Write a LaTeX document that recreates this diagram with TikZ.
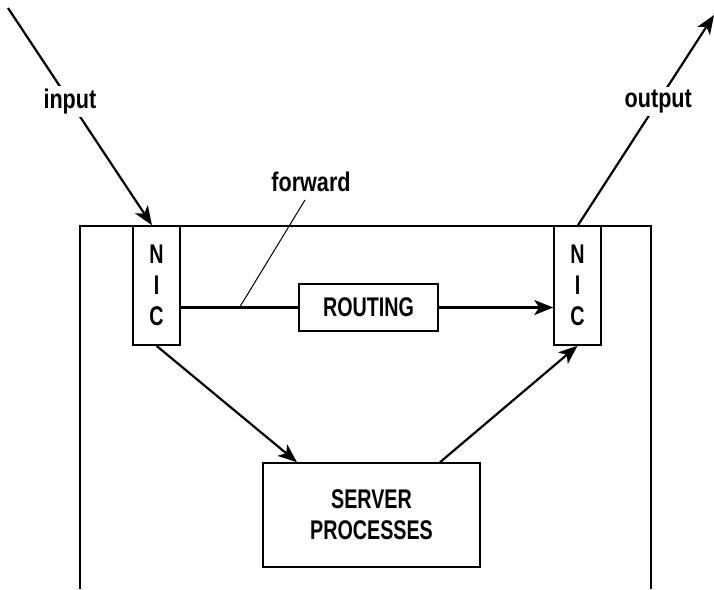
\documentclass[tikz,border=0pt]{standalone}
\usepackage{fontspec}
\setmainfont{Liberation Sans}[FakeStretch=0.73]
\newfontfamily\lowfont{Liberation Sans}[FakeStretch=0.8]
\usepackage{tikz}
\usetikzlibrary{arrows.meta}

\tikzset{
	box/.style={draw,line width=1.6pt,fill=white,inner sep=0pt,font=\bfseries\fontsize{27}{31}\selectfont,align=center},
	arr/.style={-{Stealth[length=19pt,width=15pt,inset=5pt]},line width=2.2pt},
	lbl/.style={fill=white,inner sep=3pt,font=\lowfont\bfseries\fontsize{27}{30}\selectfont}
}

\begin{document}
\begin{tikzpicture}[x=1pt,y=-1pt]
	\useasboundingbox (0,0) rectangle (714,589);
	
	%host
	\draw[line width=1.6pt] (80,589) -- (80,226) -- (651,226) -- (651,589);
	
	\node[box,minimum width=47pt,minimum height=119pt] (nicL) at (156.5,285.5) {N\\I\\C};
	\node[box,minimum width=47pt,minimum height=119pt] (nicR) at (577.5,285.5) {N\\I\\C};
	\node[box,minimum width=139pt,minimum height=47pt] (routing) at (368.5,307.5) {ROUTING};
	\node[box,minimum width=217pt,minimum height=104pt] (server) at (371.5,515) {SERVER\\PROCESSES};
	
	%in and out
	\coordinate (src) at (8,8);
	\coordinate (dst) at (714,15);
	\draw[arr] (src) -- node[lbl,pos=0.43] (input) {input} ([xshift=-4.5pt]nicL.north);
	\draw[arr] ([xshift=0.5pt]nicR.north) -- node[lbl,pos=0.59] (output) {output} (dst);
	
	%forward path
	\draw[line width=2.2pt] (routing.west -| nicL.east) -- coordinate[pos=0.5] (fwd) (routing.west);
	\draw[arr] (routing.east) -- (routing.east -| nicR.west);
	\node[font=\lowfont\bfseries\fontsize{27}{30}\selectfont] (fwdlbl) at (311,182) {forward};
	\draw[line width=1pt] (305,200) -- (fwd);
	
	%to and from the server
	\draw[arr] (nicL.south) -- ([xshift=-74.5pt]server.north);
	\draw[arr] ([xshift=68.5pt]server.north) -- (nicR.south);
\end{tikzpicture}
\end{document}
